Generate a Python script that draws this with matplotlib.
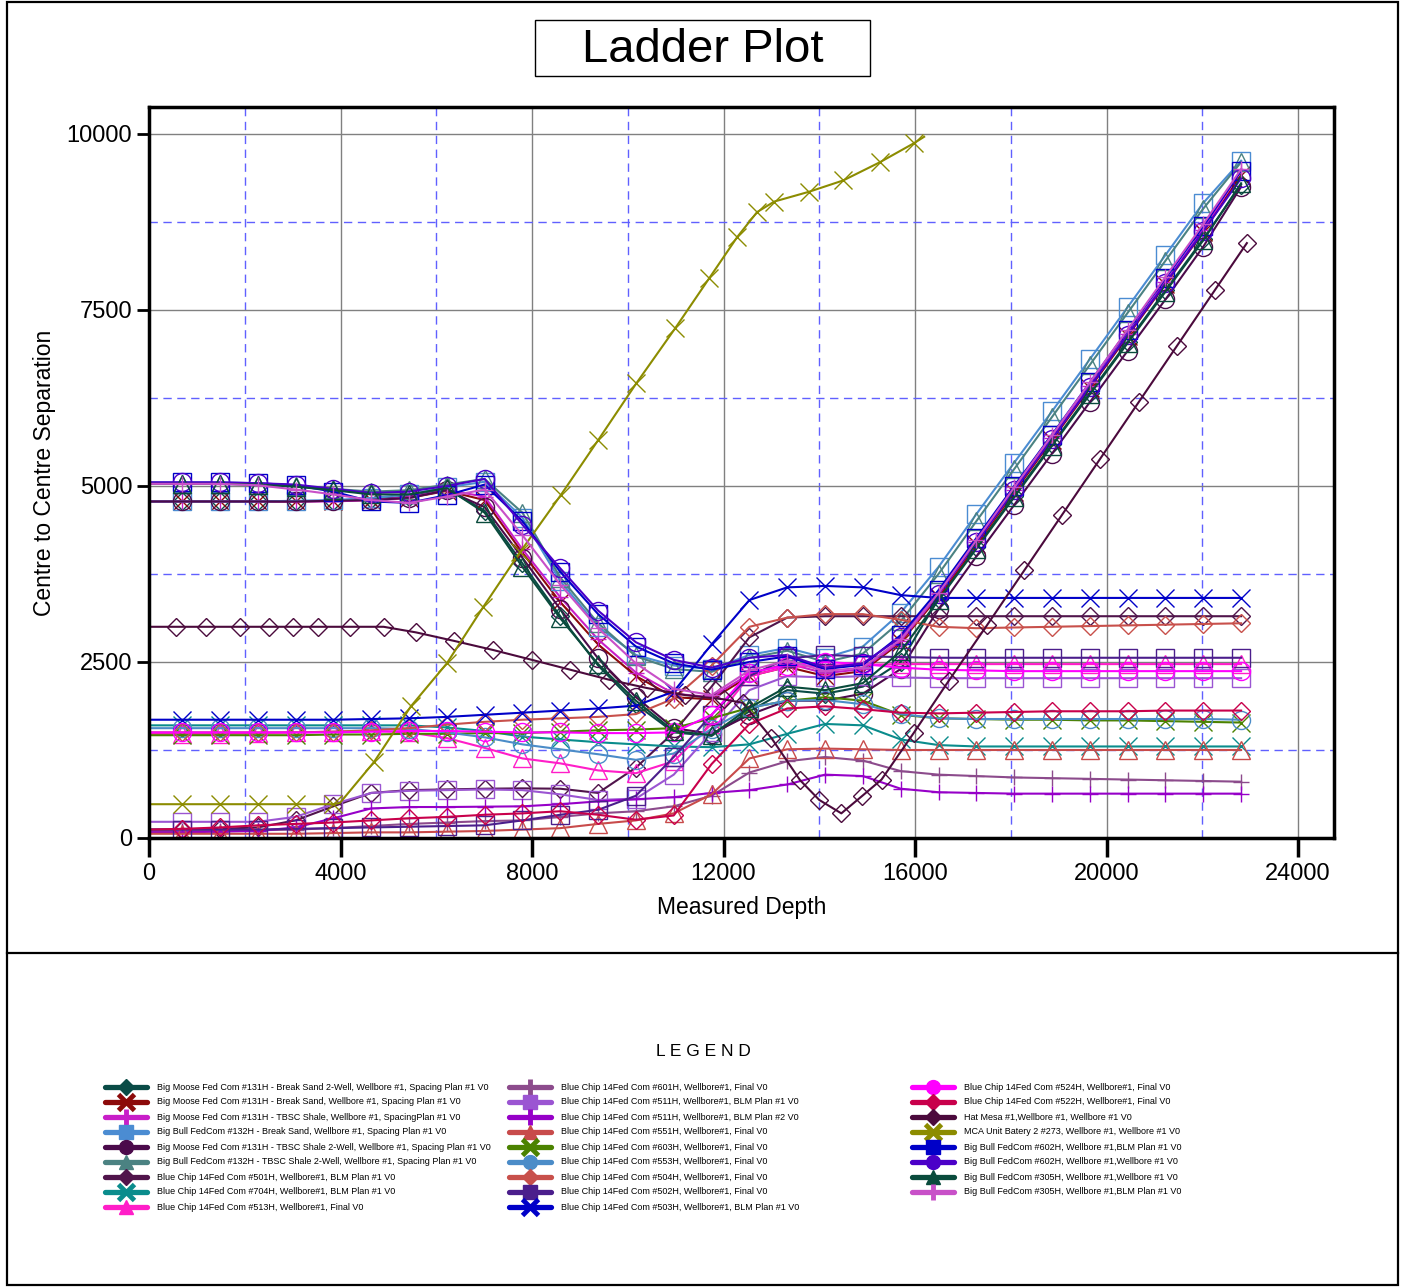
import matplotlib.pyplot as plt
from matplotlib.patches import Rectangle

plt.rcParams['font.family'] = ['Liberation Sans', 'DejaVu Sans']

# measured depth stations (ft) shared by most offset wells
md = [0, 690, 1480, 2270, 3060, 3850, 4640, 5430, 6220, 7010, 7800, 8590, 9380, 10170, 10960,
      11750, 12540, 13330, 14120, 14910, 15700, 16490, 17280, 18070, 18860, 19650, 20440, 21230,
      22020, 22810]

# centre to centre separation (ft) per offset well
bm131_bs2w = [4780, 4780, 4780, 4780, 4780, 4790, 4810, 4850, 4960, 4650, 3900, 3150, 2450, 1900, 1500,
              1450, 1800, 2100, 2050, 2150, 2500, 3400, 4130, 4860, 5590, 6320, 7050, 7780, 8510, 9280]
bm131_bs = [4780, 4780, 4780, 4780, 4780, 4790, 4800, 4830, 4930, 4800, 4050, 3350, 2750, 2300, 2000,
            1970, 2300, 2430, 2300, 2370, 2780, 3430, 4170, 4910, 5650, 6390, 7130, 7870, 8610, 9420]
bm131_tbsc = [4780, 4780, 4780, 4780, 4780, 4780, 4800, 4840, 4940, 4850, 4100, 3420, 2820, 2350, 2050,
              2000, 2330, 2480, 2340, 2400, 2800, 3460, 4200, 4940, 5680, 6420, 7160, 7900, 8640, 9480]
bb132_bs = [4780, 4780, 4780, 4780, 4790, 4800, 4830, 4880, 4980, 5060, 4550, 3650, 3000, 2600, 2450,
            2400, 2600, 2700, 2560, 2720, 3200, 3850, 4600, 5330, 6060, 6800, 7540, 8280, 9020, 9620]
bm131_tbsc2w = [4780, 4780, 4780, 4780, 4780, 4790, 4800, 4830, 4940, 4700, 3980, 3250, 2550, 2000, 1560,
                1480, 1750, 1950, 1950, 2050, 2400, 3250, 4000, 4730, 5460, 6190, 6920, 7650, 8400, 9250]
bb132_tbsc2w = [5030, 5030, 5030, 5020, 5000, 4960, 4920, 4940, 5020, 5100, 4620, 3700, 3050, 2580, 2400,
                2360, 2560, 2660, 2500, 2620, 3080, 3750, 4500, 5240, 5980, 6720, 7460, 8200, 8940, 9600]
bc501 = [120, 120, 130, 150, 250, 450, 640, 680, 690, 700, 705, 700, 640, 1000, 1500,
         2150, 2850, 3130, 3150, 3150, 3150, 3150, 3150, 3150, 3150, 3150, 3150, 3150, 3150, 3150]
bc704 = [1600, 1600, 1600, 1600, 1600, 1600, 1600, 1600, 1570, 1520, 1440, 1400, 1360, 1330, 1300,
         1290, 1330, 1480, 1620, 1600, 1400, 1320, 1300, 1300, 1300, 1300, 1300, 1300, 1300, 1300]
bc513 = [1480, 1480, 1480, 1490, 1500, 1510, 1520, 1500, 1420, 1280, 1130, 1060, 960, 920, 1090,
         1620, 2300, 2430, 2450, 2460, 2470, 2470, 2470, 2470, 2470, 2470, 2470, 2470, 2470, 2470]
bc601 = [100, 100, 100, 110, 120, 140, 170, 200, 220, 240, 250, 300, 350, 380, 450,
         600, 930, 1090, 1150, 1100, 950, 900, 880, 860, 850, 840, 830, 820, 810, 800]
bc511_p1 = [230, 230, 230, 230, 300, 480, 640, 670, 680, 690, 680, 620, 540, 560, 900,
            1500, 2100, 2300, 2280, 2300, 2280, 2270, 2270, 2270, 2270, 2270, 2270, 2270, 2270, 2270]
bc511_p2 = [80, 80, 90, 100, 150, 280, 420, 440, 440, 445, 450, 480, 520, 550, 580,
            640, 680, 760, 900, 880, 700, 650, 640, 630, 630, 630, 630, 630, 630, 630]
bc551 = [60, 60, 60, 60, 60, 70, 80, 80, 90, 100, 120, 140, 200, 250, 350,
         620, 1130, 1260, 1270, 1260, 1250, 1250, 1250, 1250, 1250, 1250, 1250, 1250, 1250, 1250]
bc603 = [1460, 1460, 1460, 1460, 1460, 1470, 1470, 1480, 1480, 1490, 1490, 1510, 1530, 1540, 1560,
         1700, 1850, 1950, 2000, 1950, 1750, 1700, 1690, 1680, 1680, 1670, 1670, 1660, 1650, 1640]
bc553 = [1560, 1560, 1560, 1560, 1560, 1560, 1560, 1550, 1500, 1430, 1330, 1260, 1190, 1110, 1200,
         1550, 1850, 1950, 1960, 1900, 1760, 1700, 1690, 1690, 1690, 1690, 1690, 1690, 1690, 1680]
bc504 = [1500, 1500, 1500, 1500, 1500, 1510, 1530, 1560, 1610, 1650, 1680, 1700, 1720, 1760, 1980,
         2450, 3000, 3130, 3180, 3180, 3100, 3000, 2980, 2990, 3000, 3010, 3020, 3030, 3040, 3050]
bc502 = [120, 120, 120, 120, 130, 140, 150, 160, 170, 180, 250, 330, 400, 600, 1150,
         1750, 2300, 2550, 2600, 2580, 2570, 2560, 2560, 2560, 2560, 2560, 2560, 2560, 2560, 2560]
bc503 = [1680, 1680, 1680, 1680, 1680, 1680, 1690, 1700, 1720, 1750, 1780, 1810, 1840, 1880, 2080,
         2750, 3380, 3560, 3580, 3560, 3450, 3410, 3410, 3410, 3410, 3410, 3410, 3410, 3410, 3410]
bc524 = [1500, 1500, 1500, 1500, 1500, 1500, 1510, 1520, 1520, 1510, 1500, 1500, 1490, 1490, 1500,
         1750, 2350, 2450, 2500, 2470, 2420, 2390, 2380, 2370, 2370, 2370, 2370, 2370, 2370, 2370]
bc522 = [120, 130, 150, 180, 200, 220, 250, 280, 300, 330, 350, 380, 330, 260, 320,
         1050, 1620, 1840, 1870, 1830, 1780, 1770, 1780, 1790, 1800, 1800, 1800, 1810, 1810, 1810]
bb602_blm = [5050, 5050, 5050, 5040, 5010, 4920, 4780, 4760, 4870, 5020, 4500, 3780, 3180, 2720, 2480,
             2390, 2500, 2580, 2400, 2460, 2880, 3520, 4260, 5000, 5730, 6470, 7210, 7950, 8690, 9480]
bb602_wb = [5050, 5050, 5050, 5040, 5020, 4960, 4900, 4920, 5000, 5100, 4450, 3830, 3230, 2780, 2530,
            2420, 2560, 2600, 2420, 2480, 2850, 3470, 4200, 4940, 5670, 6410, 7150, 7880, 8620, 9370]
bb305_wb = [5030, 5030, 5030, 5020, 4990, 4940, 4880, 4880, 4970, 4620, 3850, 3120, 2470, 1950, 1520,
            1460, 1850, 2150, 2100, 2200, 2650, 3380, 4110, 4840, 5570, 6300, 7030, 7760, 8490, 9300]
bb305_blm = [5030, 5030, 5030, 5010, 4950, 4880, 4800, 4760, 4850, 4950, 4300, 3600, 2980, 2480, 2120,
             2030, 2380, 2520, 2370, 2420, 2820, 3480, 4230, 4980, 5720, 6470, 7220, 7970, 8720, 9500]

# Hat Mesa and MCA have their own stations
hm_md = [0, 560, 1200, 1900, 2500, 3000, 3520, 4200, 4900, 5580, 6370, 7190, 8000, 8800, 9600, 10400,
         11200, 12000, 12400, 13000, 13600, 14000, 14460, 14900, 15300, 15970, 16700, 17500, 18280,
         19070, 19870, 20670, 21470, 22270, 22930]
hat_mesa = [3000, 3000, 3000, 3000, 3000, 3000, 3000, 3000, 3000, 2920, 2800, 2670, 2530, 2390, 2250,
            2130, 2030, 1970, 1920, 1420, 820, 540, 350, 600, 830, 1490, 2230, 3020, 3800, 4590, 5390,
            6190, 6990, 7790, 8450]
mca_md = [0, 690, 1480, 2270, 3060, 3850, 3990, 4700, 5470, 6220, 6980, 7750, 8600, 9380, 10180,
          10990, 11700, 12290, 12700, 13060, 13790, 14500, 15270, 15980, 16190]
mca = [480, 480, 480, 480, 480, 480, 500, 1080, 1870, 2480, 3280, 4060, 4870, 5650, 6460, 7240,
       7950, 8540, 8890, 9040, 9180, 9340, 9600, 9870, 9960]

labels = [
    "Big Moose Fed Com #131H - Break Sand 2-Well, Wellbore #1, Spacing Plan #1 V0",
    "Big Moose Fed Com #131H - Break Sand, Wellbore #1, Spacing Plan #1 V0",
    "Big Moose Fed Com #131H - TBSC Shale, Wellbore #1, SpacingPlan #1 V0",
    "Big Bull FedCom #132H - Break Sand, Wellbore #1, Spacing Plan #1 V0",
    "Big Moose Fed Com #131H - TBSC Shale 2-Well, Wellbore #1, Spacing Plan #1 V0",
    "Big Bull FedCom #132H - TBSC Shale 2-Well, Wellbore #1, Spacing Plan #1 V0",
    "Blue Chip 14Fed Com #501H, Wellbore#1, BLM Plan #1 V0",
    "Blue Chip 14Fed Com #704H, Wellbore#1, BLM Plan #1 V0",
    "Blue Chip 14Fed Com #513H, Wellbore#1, Final V0",
    "Blue Chip 14Fed Com #601H, Wellbore#1, Final V0",
    "Blue Chip 14Fed Com #511H, Wellbore#1, BLM Plan #1 V0",
    "Blue Chip 14Fed Com #511H, Wellbore#1, BLM Plan #2 V0",
    "Blue Chip 14Fed Com #551H, Wellbore#1, Final V0",
    "Blue Chip 14Fed Com #603H, Wellbore#1, Final V0",
    "Blue Chip 14Fed Com #553H, Wellbore#1, Final V0",
    "Blue Chip 14Fed Com #504H, Wellbore#1, Final V0",
    "Blue Chip 14Fed Com #502H, Wellbore#1, Final V0",
    "Blue Chip 14Fed Com #503H, Wellbore#1, BLM Plan #1 V0",
    "Blue Chip 14Fed Com #524H, Wellbore#1, Final V0",
    "Blue Chip 14Fed Com #522H, Wellbore#1, Final V0",
    "Hat Mesa #1,Wellbore #1, Wellbore #1 V0",
    "MCA Unit Batery 2 #273, Wellbore #1, Wellbore #1 V0",
    "Big Bull FedCom #602H, Wellbore #1,BLM Plan #1 V0",
    "Big Bull FedCom #602H, Wellbore #1,Wellbore #1 V0",
    "Big Bull FedCom #305H, Wellbore #1,Wellbore #1 V0",
    "Big Bull FedCom #305H, Wellbore #1,BLM Plan #1 V0",
]
colors = ['#0A4B46', '#8C0A0A', '#C81EC8', '#4B8CD2', '#4B0A4B', '#4B8282', '#50144B', '#0A8C8C',
          '#FF1EC8', '#8C4B8C', '#9B55D2', '#9600C8', '#C84B4B', '#4B8200', '#4B8CC8', '#C8504B',
          '#4B1E8C', '#0000C8', '#FF00FF', '#C8004B', '#4B0A3C', '#8C8C00', '#0000C8', '#4B00C8',
          '#0A4B3C', '#C850C8']
markers = ['D', 'x', '+', 's', 'o', '^', 'D', 'x', '^', '+', 's', '+', '^', 'x', 'o', 'D', 's', 'x',
           'o', 'D', 'D', 'x', 's', 'o', '^', '+']
series = [
    (md, bm131_bs2w), (md, bm131_bs), (md, bm131_tbsc), (md, bb132_bs), (md, bm131_tbsc2w),
    (md, bb132_tbsc2w), (md, bc501), (md, bc704), (md, bc513), (md, bc601), (md, bc511_p1),
    (md, bc511_p2), (md, bc551), (md, bc603), (md, bc553), (md, bc504), (md, bc502), (md, bc503),
    (md, bc524), (md, bc522), (hm_md, hat_mesa), (mca_md, mca), (md, bb602_blm), (md, bb602_wb),
    (md, bb305_wb), (md, bb305_blm),
]
msize = {'s': 13, 'o': 13, '^': 13, 'D': 9, 'x': 13, '+': 12}

W, H = 1401, 1287
fig = plt.figure(figsize=(W / 100, H / 100), dpi=100)

# page furniture drawn in pixel coordinates
bg = fig.add_axes([0, 0, 1, 1])
bg.set_xlim(0, W)
bg.set_ylim(H, 0)
bg.axis('off')
bg.add_patch(Rectangle((7, 2), 1391, 1283, fill=False, lw=1.6, ec='black'))
bg.plot([7, 1398], [953, 953], color='black', lw=1.6)
bg.add_patch(Rectangle((535, 20), 335, 56, fill=False, lw=1.0, ec='black'))
bg.text(703, 50, 'Ladder Plot', fontsize=34, ha='center', va='center')
bg.text(703, 1051, 'L E G E N D', fontsize=12.5, ha='center', va='center')

ax = fig.add_axes([149 / W, 1 - 838 / H, (1334 - 149) / W, (838 - 107) / H])
for (x, y), c, m in zip(series, colors, markers):
    if m in ('x', '+'):
        mk = dict(marker=m, mec=c, mew=1.0)
    else:
        mk = dict(marker=m, mfc='none', mec=c, mew=1.0)
    if x is mca_md:
        every = [1, 2, 3, 4, 5] + list(range(7, len(x) - 1))
    else:
        every = slice(1, None)
    ax.plot(x, y, color=c, lw=1.5, ms=msize[m], markevery=every, **mk)

ax.set_xlim(0, 24750)
ax.set_ylim(0, 10383)
ax.set_xticks(range(0, 24001, 4000))
ax.set_xticks(range(2000, 24000, 4000), minor=True)
ax.set_yticks([0, 2500, 5000, 7500, 10000])
ax.set_yticks([1250, 3750, 6250, 8750], minor=True)
ax.set_axisbelow(True)
ax.grid(which='major', color='#808080', lw=1.0)
ax.grid(which='minor', color='#6060FF', lw=1.0, ls=(0, (6, 4)))
ax.tick_params(which='minor', length=0)
ax.tick_params(axis='x', which='major', length=14, width=2.5, labelsize=17, pad=4)
ax.tick_params(axis='y', which='major', length=9, width=2, labelsize=17, pad=3)
for s in ax.spines.values():
    s.set_linewidth(2.5)
ax.set_xlabel('Measured Depth', fontsize=16.5, labelpad=8)
ax.set_ylabel('Centre to Centre Separation', fontsize=16.5, labelpad=8)

# legend block
col_x = [126, 530, 933]
for i, (lab, c, m) in enumerate(zip(labels, colors, markers)):
    col = 0 if i < 9 else (1 if i < 18 else 2)
    row = i - (0, 9, 18)[col]
    yy = 1087 + row * 15
    cx = col_x[col]
    bg.plot([cx - 21, cx + 21], [yy, yy], color=c, lw=3.8, solid_capstyle='round')
    if m in ('x', '+'):
        bg.plot([cx], [yy], marker=m, color=c, ms=11, mew=3.5)
    else:
        bg.plot([cx], [yy], marker=m, color=c, ms=10 if m != 'D' else 8)
    bg.text(cx + 31, yy, lab, fontsize=6.5, ha='left', va='center')

fig.savefig('out.png', dpi=100)
